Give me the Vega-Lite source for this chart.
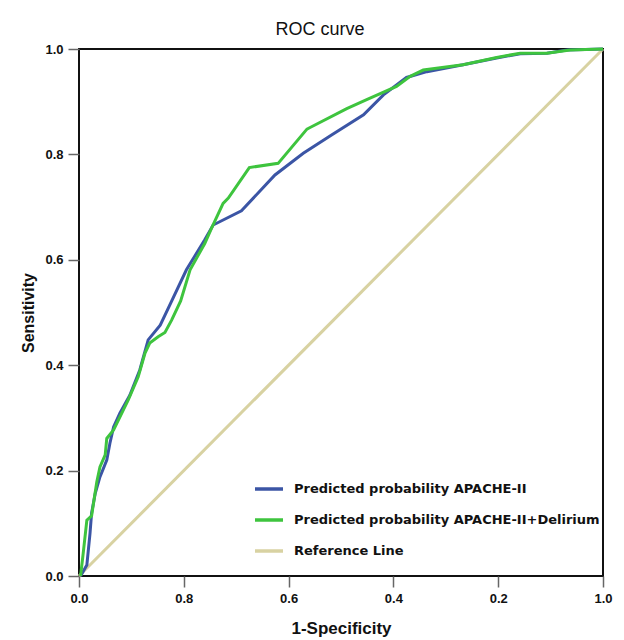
{
  "$schema": "https://vega.github.io/schema/vega-lite/v6.json",
  "width": 524,
  "height": 527,
  "autosize": {"type": "none"},
  "padding": {"left": 79, "top": 49, "right": 21, "bottom": 64},
  "background": "white",
  "title": {"text": "ROC curve", "fontSize": 18, "font": "Liberation Sans", "fontWeight": "normal", "color": "#111", "anchor": "middle", "dx": -21, "offset": 4},
  "config": {
    "view": {"stroke": "#111", "strokeWidth": 2},
    "axis": {"grid": false, "domain": false, "tickColor": "#666", "tickWidth": 1.5, "tickSize": 11, "labelFont": "Liberation Sans", "labelFontWeight": "bold", "labelFontSize": 13, "labelColor": "#111", "labelFlush": false, "titleFont": "Liberation Sans", "titleColor": "#111"}
  },
  "data": {"values": [
    {"series": "Reference Line", "fpr": 0, "tpr": 0},
    {"series": "Reference Line", "fpr": 1, "tpr": 1},
    {"series": "Predicted probability APACHE-II", "fpr": 0.003, "tpr": 0.0},
    {"series": "Predicted probability APACHE-II", "fpr": 0.015, "tpr": 0.021},
    {"series": "Predicted probability APACHE-II", "fpr": 0.021, "tpr": 0.081},
    {"series": "Predicted probability APACHE-II", "fpr": 0.024, "tpr": 0.119},
    {"series": "Predicted probability APACHE-II", "fpr": 0.031, "tpr": 0.157},
    {"series": "Predicted probability APACHE-II", "fpr": 0.040, "tpr": 0.188},
    {"series": "Predicted probability APACHE-II", "fpr": 0.053, "tpr": 0.220},
    {"series": "Predicted probability APACHE-II", "fpr": 0.059, "tpr": 0.252},
    {"series": "Predicted probability APACHE-II", "fpr": 0.066, "tpr": 0.283},
    {"series": "Predicted probability APACHE-II", "fpr": 0.078, "tpr": 0.309},
    {"series": "Predicted probability APACHE-II", "fpr": 0.097, "tpr": 0.343},
    {"series": "Predicted probability APACHE-II", "fpr": 0.116, "tpr": 0.391},
    {"series": "Predicted probability APACHE-II", "fpr": 0.132, "tpr": 0.448},
    {"series": "Predicted probability APACHE-II", "fpr": 0.155, "tpr": 0.476},
    {"series": "Predicted probability APACHE-II", "fpr": 0.177, "tpr": 0.522},
    {"series": "Predicted probability APACHE-II", "fpr": 0.205, "tpr": 0.581},
    {"series": "Predicted probability APACHE-II", "fpr": 0.240, "tpr": 0.638},
    {"series": "Predicted probability APACHE-II", "fpr": 0.256, "tpr": 0.666},
    {"series": "Predicted probability APACHE-II", "fpr": 0.310, "tpr": 0.693},
    {"series": "Predicted probability APACHE-II", "fpr": 0.374, "tpr": 0.761},
    {"series": "Predicted probability APACHE-II", "fpr": 0.428, "tpr": 0.802},
    {"series": "Predicted probability APACHE-II", "fpr": 0.482, "tpr": 0.837},
    {"series": "Predicted probability APACHE-II", "fpr": 0.543, "tpr": 0.875},
    {"series": "Predicted probability APACHE-II", "fpr": 0.581, "tpr": 0.913},
    {"series": "Predicted probability APACHE-II", "fpr": 0.625, "tpr": 0.946},
    {"series": "Predicted probability APACHE-II", "fpr": 0.664, "tpr": 0.957},
    {"series": "Predicted probability APACHE-II", "fpr": 0.733, "tpr": 0.970},
    {"series": "Predicted probability APACHE-II", "fpr": 0.797, "tpr": 0.983},
    {"series": "Predicted probability APACHE-II", "fpr": 0.842, "tpr": 0.991},
    {"series": "Predicted probability APACHE-II", "fpr": 0.893, "tpr": 0.992},
    {"series": "Predicted probability APACHE-II", "fpr": 0.931, "tpr": 0.998},
    {"series": "Predicted probability APACHE-II", "fpr": 1.0, "tpr": 1.0},
    {"series": "Predicted probability APACHE-II+Delirium", "fpr": 0.003, "tpr": 0.0},
    {"series": "Predicted probability APACHE-II+Delirium", "fpr": 0.008, "tpr": 0.043},
    {"series": "Predicted probability APACHE-II+Delirium", "fpr": 0.015, "tpr": 0.106},
    {"series": "Predicted probability APACHE-II+Delirium", "fpr": 0.024, "tpr": 0.114},
    {"series": "Predicted probability APACHE-II+Delirium", "fpr": 0.034, "tpr": 0.179},
    {"series": "Predicted probability APACHE-II+Delirium", "fpr": 0.040, "tpr": 0.207},
    {"series": "Predicted probability APACHE-II+Delirium", "fpr": 0.050, "tpr": 0.230},
    {"series": "Predicted probability APACHE-II+Delirium", "fpr": 0.053, "tpr": 0.261},
    {"series": "Predicted probability APACHE-II+Delirium", "fpr": 0.066, "tpr": 0.277},
    {"series": "Predicted probability APACHE-II+Delirium", "fpr": 0.094, "tpr": 0.334},
    {"series": "Predicted probability APACHE-II+Delirium", "fpr": 0.113, "tpr": 0.378},
    {"series": "Predicted probability APACHE-II+Delirium", "fpr": 0.126, "tpr": 0.423},
    {"series": "Predicted probability APACHE-II+Delirium", "fpr": 0.135, "tpr": 0.442},
    {"series": "Predicted probability APACHE-II+Delirium", "fpr": 0.151, "tpr": 0.454},
    {"series": "Predicted probability APACHE-II+Delirium", "fpr": 0.164, "tpr": 0.462},
    {"series": "Predicted probability APACHE-II+Delirium", "fpr": 0.177, "tpr": 0.486},
    {"series": "Predicted probability APACHE-II+Delirium", "fpr": 0.194, "tpr": 0.522},
    {"series": "Predicted probability APACHE-II+Delirium", "fpr": 0.212, "tpr": 0.581},
    {"series": "Predicted probability APACHE-II+Delirium", "fpr": 0.240, "tpr": 0.631},
    {"series": "Predicted probability APACHE-II+Delirium", "fpr": 0.253, "tpr": 0.660},
    {"series": "Predicted probability APACHE-II+Delirium", "fpr": 0.275, "tpr": 0.707},
    {"series": "Predicted probability APACHE-II+Delirium", "fpr": 0.285, "tpr": 0.717},
    {"series": "Predicted probability APACHE-II+Delirium", "fpr": 0.325, "tpr": 0.775},
    {"series": "Predicted probability APACHE-II+Delirium", "fpr": 0.380, "tpr": 0.783},
    {"series": "Predicted probability APACHE-II+Delirium", "fpr": 0.435, "tpr": 0.848},
    {"series": "Predicted probability APACHE-II+Delirium", "fpr": 0.441, "tpr": 0.851},
    {"series": "Predicted probability APACHE-II+Delirium", "fpr": 0.511, "tpr": 0.887},
    {"series": "Predicted probability APACHE-II+Delirium", "fpr": 0.549, "tpr": 0.904},
    {"series": "Predicted probability APACHE-II+Delirium", "fpr": 0.606, "tpr": 0.929},
    {"series": "Predicted probability APACHE-II+Delirium", "fpr": 0.632, "tpr": 0.948},
    {"series": "Predicted probability APACHE-II+Delirium", "fpr": 0.657, "tpr": 0.960},
    {"series": "Predicted probability APACHE-II+Delirium", "fpr": 0.733, "tpr": 0.970},
    {"series": "Predicted probability APACHE-II+Delirium", "fpr": 0.797, "tpr": 0.984},
    {"series": "Predicted probability APACHE-II+Delirium", "fpr": 0.842, "tpr": 0.992},
    {"series": "Predicted probability APACHE-II+Delirium", "fpr": 0.893, "tpr": 0.992},
    {"series": "Predicted probability APACHE-II+Delirium", "fpr": 0.937, "tpr": 0.998},
    {"series": "Predicted probability APACHE-II+Delirium", "fpr": 1.0, "tpr": 1.0}
  ]},
  "mark": {"type": "line", "strokeWidth": 3, "clip": false},
  "encoding": {
    "x": {"field": "fpr", "type": "quantitative", "scale": {"domain": [0, 1], "nice": false}, "axis": {"values": [0, 0.2, 0.4, 0.6, 0.8, 1.0], "labelExpr": "datum.value == 0.2 ? '0.8' : datum.value == 0.4 ? '0.6' : datum.value == 0.6 ? '0.4' : datum.value == 0.8 ? '0.2' : format(datum.value, '.1f')", "title": "1-Specificity", "titleFontSize": 17, "titleFontWeight": "bold", "titlePadding": 15, "labelPadding": 5}},
    "y": {"field": "tpr", "type": "quantitative", "scale": {"domain": [0, 1], "nice": false}, "axis": {"values": [0, 0.2, 0.4, 0.6, 0.8, 1.0], "format": ".1f", "title": "Sensitivity", "titleFontSize": 16, "titleFontWeight": "bold", "titlePadding": 8, "labelPadding": 5}},
    "color": {"field": "series", "type": "nominal", "scale": {"domain": ["Predicted probability APACHE-II", "Predicted probability APACHE-II+Delirium", "Reference Line"], "range": ["#3b55a5", "#3ec43e", "#d8d2a2"]}, "legend": {"title": null, "orient": "none", "legendX": 174, "legendY": 424, "symbolType": "stroke", "symbolSize": 784, "symbolStrokeWidth": 3.5, "labelFont": "DejaVu Sans", "labelFontWeight": "bold", "labelFontSize": 13, "labelColor": "#111", "labelLimit": 0, "labelOffset": 9, "rowPadding": 8, "padding": 0}},
    "strokeWidth": {"condition": {"test": "datum.series == 'Reference Line'", "value": 2}, "value": 3}
  }
}
